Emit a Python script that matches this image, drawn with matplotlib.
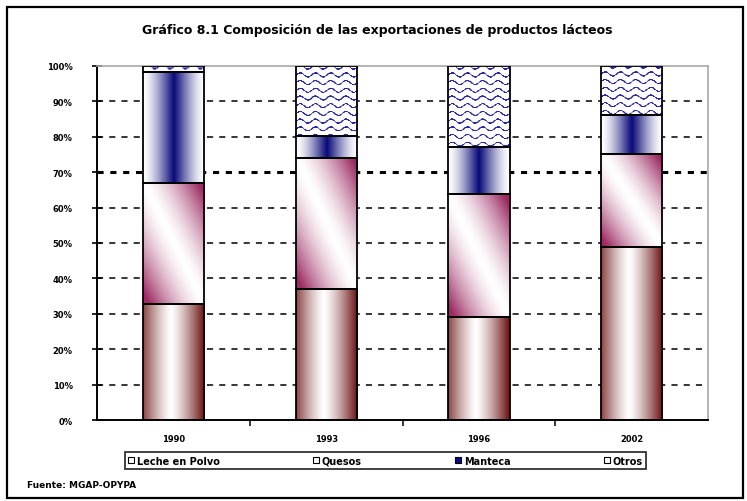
import numpy as np
import matplotlib
matplotlib.use("Agg")
import matplotlib.pyplot as plt
from matplotlib.patches import Rectangle
from matplotlib.lines import Line2D
from matplotlib.colors import to_rgb

# ---- data ----
years = ["1990", "1993", "1996", "2002"]
leche = [32.8, 37.0, 29.1, 49.0]
quesos = [34.2, 37.0, 34.7, 26.1]
manteca = [31.3, 6.3, 13.4, 10.9]
otros = [1.7, 19.7, 22.8, 14.0]
series_names = ["Leche en Polvo", "Quesos", "Manteca", "Otros"]
yticks = list(range(0, 101, 10))
ytick_labels = [f"{v}%" for v in yticks]

title = "Gráfico 8.1 Composición de las exportaciones de productos lácteos"
source = "Fuente: MGAP-OPYPA"

# ---- figure ----
fig = plt.figure(figsize=(7.47, 5.02), dpi=100)
ax = fig.add_axes([0.130, 0.161, 0.818, 0.706])
x = np.arange(len(years))
width = 0.4


def mix(c, t):
    c = np.array(to_rgb(c))
    t = np.clip(t, 0, 1)[..., None]
    return (1 - t) + t * c


def grad_leche(h, w):
    u = np.linspace(0, 1, w)[None, :].repeat(h, 0)
    t = (np.abs(u - 0.45) / 0.55) ** 1.3
    return mix("#6a1010", t)


def grad_quesos(h, w):
    u = np.linspace(0, 1, w)[None, :]
    v = np.linspace(1, 0, h)[:, None]
    t = np.abs(u + v - 1.0) ** 1.5
    return mix("#9c2a62", t * 1.15)


def grad_manteca(h, w):
    u = np.linspace(0, 1, w)[None, :].repeat(h, 0)
    t = 1 - (np.abs(u - 0.5) / 0.5) ** 1.1
    return mix("#0b0b7a", t ** 1.5)


def tex_otros(h, w):
    img = np.ones((h, w, 3))
    yy, xx = np.mgrid[0:h, 0:w]
    period_y = 7.7
    phase = (yy + 2.0 * np.sin(2 * np.pi * xx / 15.0)) % period_y
    mask = phase < 1.4
    blue = np.array(to_rgb("#2828a8"))
    img[mask] = blue
    return img


fills = [grad_leche, grad_quesos, grad_manteca, tex_otros]
data = [leche, quesos, manteca, otros]

ax.set_xlim(-0.5, len(years) - 0.5)
ax.set_ylim(0, 100)

# gridlines
for v in yticks[1:-1]:
    if v == 70:
        ax.axhline(v, color="black", lw=2.2, ls=(0, (2, 2.2)), zorder=0.5)
    else:
        ax.axhline(v, color="black", lw=1.1, ls=(0, (4, 4)), zorder=0.5)

bottom = np.zeros(len(years))
bar_containers = []
for vals, fill in zip(data, fills):
    bars = ax.bar(x, vals, width, bottom=bottom, facecolor="none",
                  edgecolor="black", linewidth=1.3, zorder=3)
    bar_containers.append((bars, fill))
    bottom = bottom + np.array(vals)

fig.canvas.draw()
for bars, fill in bar_containers:
    for p in bars.patches:
        bb = p.get_window_extent()
        w = max(int(round(bb.width)), 2)
        h = max(int(round(bb.height)), 2)
        img = fill(h, w)
        x0, y0 = p.get_x(), p.get_y()
        im = ax.imshow(img, extent=(x0, x0 + p.get_width(), y0, y0 + p.get_height()),
                       aspect="auto", interpolation="bilinear", zorder=2)
        im.set_clip_path(p)

ax.set_xlim(-0.5, len(years) - 0.5)
ax.set_ylim(0, 100)

# axes styling
ax.set_yticks(yticks)
ax.set_yticklabels(ytick_labels, fontsize=6, fontweight="bold")
ax.tick_params(axis="y", direction="inout", length=7, width=1.2, pad=14)

ax.set_xticks(x)
ax.set_xticklabels(years, fontsize=6, fontweight="bold")
ax.tick_params(axis="x", length=0, pad=10)
ax.set_xticks(np.arange(0.5, len(years) - 0.5, 1.0), minor=True)
ax.tick_params(axis="x", which="minor", direction="out", length=4, width=1.1)

for s in ["left", "bottom"]:
    ax.spines[s].set_color("black")
    ax.spines[s].set_linewidth(1.4)
for s in ["top", "right"]:
    ax.spines[s].set_color("#a8a8a8")
    ax.spines[s].set_linewidth(1.2)

# title
fig.text(0.505, 0.94, title, ha="center", va="center", fontsize=9, fontweight="bold")

# legend
face = ["white", "white", "#0b0b7a", "white"]
handles = [Line2D([0], [0], marker="s", ls="none", markersize=4.5,
                  markerfacecolor=fc, markeredgecolor="black", markeredgewidth=0.8)
           for fc in face]
leg = fig.legend(handles, series_names, loc="center", ncol=4,
                 bbox_to_anchor=(0.516, 0.080),
                 frameon=True, fancybox=False, edgecolor="black",
                 handlelength=0.6, handletextpad=0.3, columnspacing=9.6,
                 borderpad=0.35, borderaxespad=0.0, prop={"weight": "bold", "size": 7})
leg.get_frame().set_linewidth(1.3)

fig.text(0.036, 0.033, source, ha="left", va="center", fontsize=6.5, fontweight="bold")

# outer frame
fig.patches.append(Rectangle((0.009, 0.006), 0.985, 0.978, transform=fig.transFigure,
                             fill=False, edgecolor="black", linewidth=1.6))

fig.savefig("out.png", dpi=100)
